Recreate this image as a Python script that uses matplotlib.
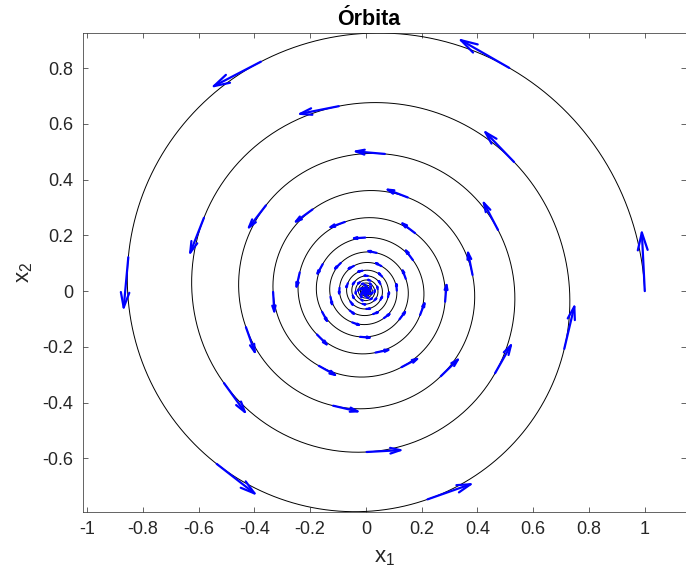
import numpy as np
import matplotlib
matplotlib.use("Agg")
import matplotlib.pyplot as plt
from matplotlib.collections import LineCollection

plt.rcParams['font.family'] = ['Liberation Sans', 'DejaVu Sans']
plt.rcParams['axes.unicode_minus'] = False

# linear system x' = A x, started at x0
A = np.array([[-0.05, -1.0],
              [1.0, -0.05]])
x0 = np.array([1.0, 0.0])
t_end = 110.0
dt = 0.01
arrow_step = 1.0          # one velocity arrow per time unit
arrow_scale = 0.21
xticks = [-1, -0.8, -0.6, -0.4, -0.2, 0, 0.2, 0.4, 0.6, 0.8, 1]
yticks = [-0.6, -0.4, -0.2, 0, 0.2, 0.4, 0.6, 0.8]

# RK4 integration
n = int(round(t_end / dt))
X = np.zeros((n + 1, 2))
X[0] = x0
f = lambda x: A @ x
for i in range(n):
    x = X[i]
    k1 = f(x)
    k2 = f(x + dt / 2 * k1)
    k3 = f(x + dt / 2 * k2)
    k4 = f(x + dt * k3)
    X[i + 1] = x + dt / 6 * (k1 + 2 * k2 + 2 * k3 + k4)

# quiver points
every = int(round(arrow_step / dt))
P = X[::every]
V = (A @ P.T).T * arrow_scale

# arrows drawn as lines, head like matlab quiver
alpha, beta = 0.30, 0.28
segs = []
for (x, y), (u, v) in zip(P, V):
    tx, ty = x + u, y + v
    h1 = (tx - alpha * (u + beta * v), ty - alpha * (v - beta * u))
    h2 = (tx - alpha * (u - beta * v), ty - alpha * (v + beta * u))
    segs.append([(x, y), (tx, ty)])
    segs.append([h1, (tx, ty), h2])

fig = plt.figure(figsize=(6.86, 5.75), dpi=100)
ax_l, ax_b = 83 / 686, (575 - 511.7) / 575
ax_w, ax_h = (685.5 - 83) / 686, (511.7 - 33) / 575
ax = fig.add_axes([ax_l, ax_b, ax_w, ax_h])

ax.plot(X[:, 0], X[:, 1], color='k', lw=0.7)
ax.add_collection(LineCollection(segs, colors='#0000ff', linewidths=1.6,
                                 capstyle='round', joinstyle='round'))

# axis equal + tight
pts = np.vstack([X] + [np.array(s) for s in segs])
xmin, xmax = pts[:, 0].min(), pts[:, 0].max()
ymin, ymax = pts[:, 1].min(), pts[:, 1].max()
box_ratio = (ax_w * 686) / (ax_h * 575)
if (xmax - xmin) / (ymax - ymin) < box_ratio:
    half = (ymax - ymin) * box_ratio / 2
    xc = (xmin + xmax) / 2
    xmin, xmax = xc - half, xc + half
else:
    half = (xmax - xmin) / box_ratio / 2
    yc = (ymin + ymax) / 2
    ymin, ymax = yc - half, yc + half
ax.set_xlim(xmin, xmax)
ax.set_ylim(ymin, ymax)

ax.set_xticks(xticks)
ax.set_yticks(yticks)
ax.set_xticklabels(['%g' % v for v in xticks])
ax.set_yticklabels(['%g' % v for v in yticks])

grey = '#262626'
ax.tick_params(direction='in', top=True, right=True, length=3.6, width=0.5,
               colors=grey, labelsize=13, pad=7)
for s in ax.spines.values():
    s.set_color(grey)
    s.set_linewidth(0.5)

ax.set_title('Órbita', fontsize=15.5, fontweight='bold', pad=6, x=0.475)
ax.set_xlabel(r'$\mathregular{x_1}$', fontsize=16, color=grey, labelpad=6)
ax.set_ylabel(r'$\mathregular{x_2}$', fontsize=16, color=grey, labelpad=5)

fig.savefig('out.png', dpi=100)
